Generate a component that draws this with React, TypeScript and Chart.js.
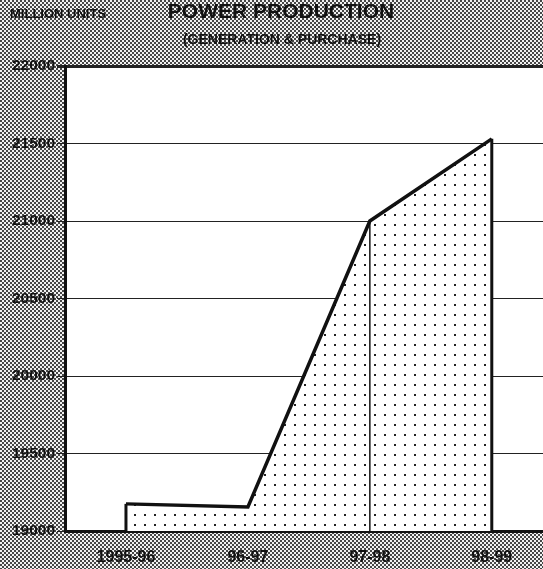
import React, { useEffect, useRef } from "react";
import { Chart, registerables } from "chart.js";

Chart.register(...registerables);

const categories = ["1995-96", "96-97", "97-98", "98-99"];
const production = [19175, 19155, 21000, 21530];
const yMin = 19000;
const yMax = 22000;
const yStep = 500;
const titleText = "POWER PRODUCTION";
const subtitleText = "(GENERATION & PURCHASE)";
const unitText = "MILLION UNITS";

const FONT = '"Liberation Sans", Arial, sans-serif';

function makeHalftone(): CanvasPattern | string {
  const c = document.createElement("canvas");
  c.width = 4;
  c.height = 4;
  const g = c.getContext("2d");
  if (!g) return "#999";
  for (let y = 0; y < 4; y++) {
    for (let x = 0; x < 4; x++) {
      const dark = (Math.floor(x / 2) + Math.floor(y / 2)) % 2 === 0;
      g.fillStyle = dark ? "#474747" : "#f2f2f2";
      g.fillRect(x, y, 1, 1);
    }
  }
  return g.createPattern(c, "repeat") || "#999";
}

function makeDots(): CanvasPattern | string {
  const c = document.createElement("canvas");
  c.width = 10;
  c.height = 10;
  const g = c.getContext("2d");
  if (!g) return "#fff";
  g.fillStyle = "#ffffff";
  g.fillRect(0, 0, 10, 10);
  g.fillStyle = "#222222";
  g.fillRect(4, 4, 2, 2);
  return g.createPattern(c, "repeat") || "#fff";
}

export default function App() {
  const ref = useRef<HTMLCanvasElement | null>(null);

  useEffect(() => {
    if (!ref.current) return;
    const halftone = makeHalftone();
    const dots = makeDots();

    const bgPlugin = {
      id: "bgPlugin",
      beforeDraw(chart: any) {
        const { ctx, chartArea, width, height } = chart;
        ctx.save();
        ctx.fillStyle = halftone;
        ctx.fillRect(0, 0, width, height);
        ctx.fillStyle = "#ffffff";
        ctx.fillRect(chartArea.left, chartArea.top, chartArea.right - chartArea.left, chartArea.bottom - chartArea.top);
        ctx.restore();
      },
      afterDatasetsDraw(chart: any) {
        const { ctx } = chart;
        const xs = chart.scales.x;
        const ys = chart.scales.y;
        const base = ys.getPixelForValue(yMin);
        ctx.save();
        ctx.strokeStyle = "#111";
        production.forEach((v, i) => {
          if (i === 1) return;
          const px = xs.getPixelForValue(i);
          const py = ys.getPixelForValue(v);
          ctx.lineWidth = i === 0 || i === production.length - 1 ? 3 : 1.5;
          ctx.beginPath();
          ctx.moveTo(px, py);
          ctx.lineTo(px, base);
          ctx.stroke();
        });
        ctx.restore();
      },
      afterDraw(chart: any) {
        const { ctx } = chart;
        ctx.save();
        ctx.fillStyle = "#111";
        ctx.textBaseline = "middle";
        ctx.textAlign = "center";
        ctx.font = `bold 21px ${FONT}`;
        ctx.fillText(titleText, 281, 12);
        ctx.font = `bold 14px ${FONT}`;
        ctx.fillText(subtitleText, 282, 40);
        ctx.textAlign = "left";
        ctx.font = `bold 13px ${FONT}`;
        ctx.fillText(unitText, 10, 14);
        ctx.restore();
      },
    };

    const chart = new Chart(ref.current, {
      type: "line",
      data: {
        datasets: [
          {
            data: production.map((v, i) => ({ x: i, y: v })),
            borderColor: "#111",
            borderWidth: 3.5,
            backgroundColor: dots as any,
            fill: "start",
            pointRadius: 0,
            tension: 0,
          },
        ],
      },
      options: {
        responsive: false,
        animation: false,
        layout: { padding: { top: 66, right: 0, left: 0, bottom: 0 } },
        plugins: { legend: { display: false }, tooltip: { enabled: false }, title: { display: false } },
        scales: {
          x: {
            type: "linear",
            min: -0.5,
            max: 3.42,
            afterBuildTicks: (scale: any) => {
              scale.ticks = categories.map((_, i) => ({ value: i }));
            },
            afterFit: (scale: any) => {
              scale.height = 38;
            },
            grid: { display: false, drawTicks: false },
            border: { display: true, color: "#111", width: 3 },
            ticks: {
              callback: (v: any) => categories[v as number] ?? "",
              color: "#111",
              font: { family: FONT, size: 16, weight: "bold" },
              padding: 17,
              maxRotation: 0,
              autoSkip: false,
            },
          },
          y: {
            min: yMin,
            max: yMax,
            afterFit: (scale: any) => {
              scale.width = 65;
            },
            grid: {
              color: "#222",
              lineWidth: (ctx: any) => (ctx.tick && ctx.tick.value === yMax ? 3 : 1),
              tickLength: 8,
              drawTicks: true,
            },
            border: { display: true, color: "#111", width: 3 },
            ticks: {
              stepSize: yStep,
              color: "#111",
              font: { family: FONT, size: 15.5, weight: "bold" },
              padding: 2,
              callback: (v: any) => String(v),
            },
          },
        },
      },
      plugins: [bgPlugin],
    });
    return () => chart.destroy();
  }, []);

  return (
    <div style={{ position: "absolute", left: 0, top: 0, width: 543, height: 569, overflow: "hidden" }}>
      <canvas ref={ref} width={543} height={569} style={{ display: "block" }} />
    </div>
  );
}
